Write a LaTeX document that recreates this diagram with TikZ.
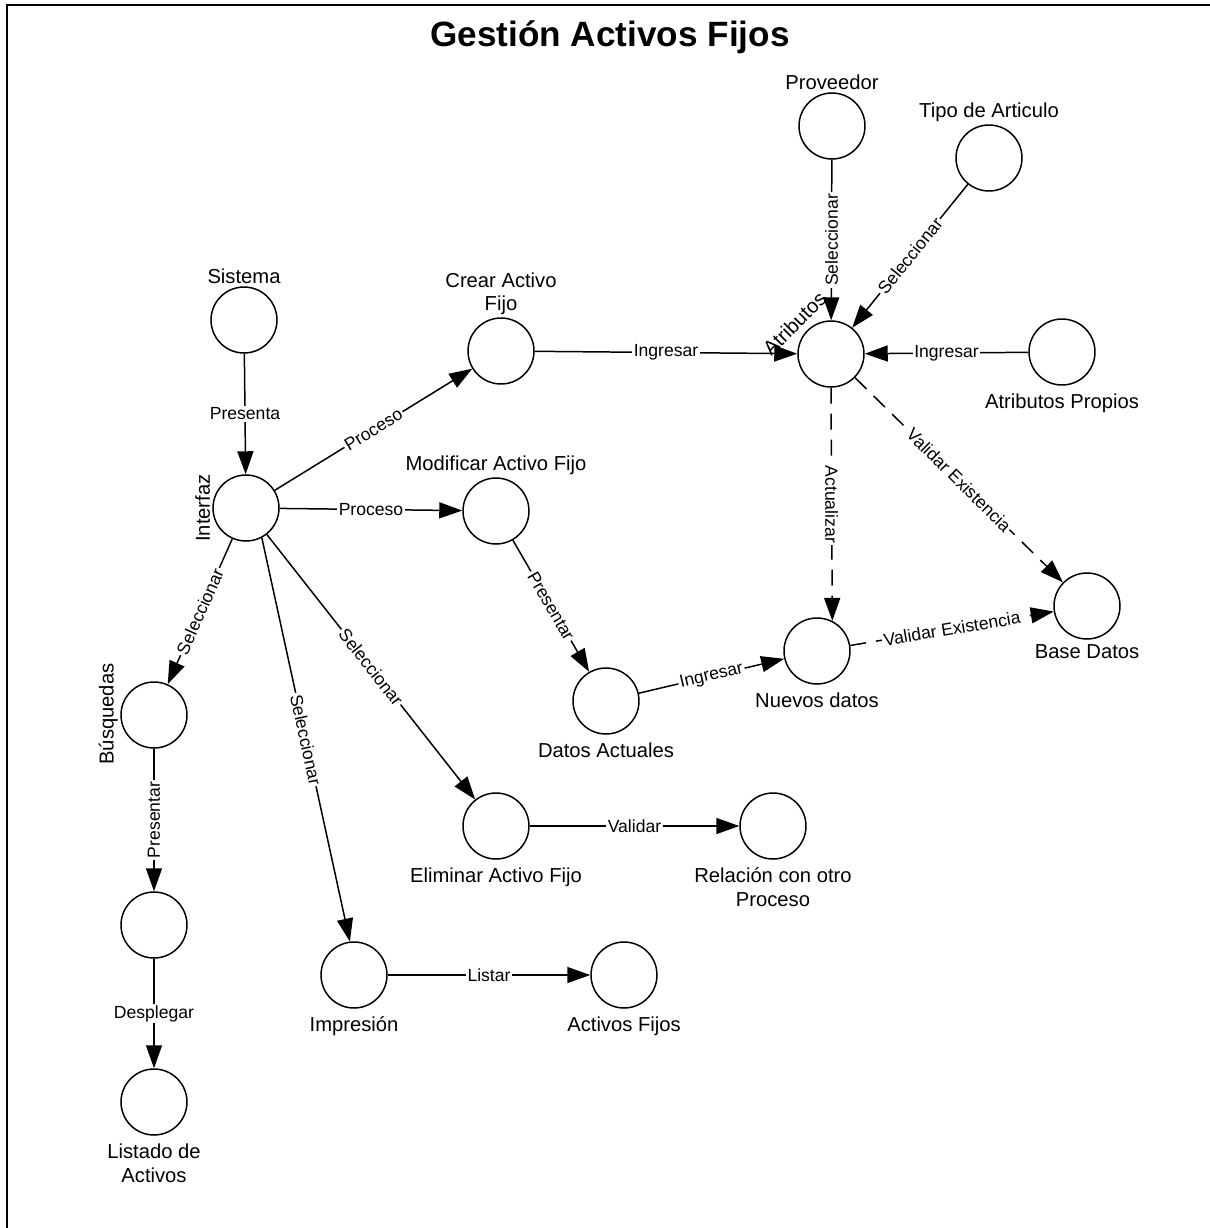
\documentclass[tikz,border=0pt]{standalone}
\usepackage{fontspec}
\setmainfont{Liberation Sans}
\usetikzlibrary{arrows.meta}

\newcommand\namefont{\fontsize{11.5}{13.5}\selectfont}
\newcommand\tagfont{\fontsize{10}{12}\selectfont}

\begin{document}
\begin{tikzpicture}[x=0.02cm, y=-0.02cm]
				\tikzset{proc/.style={
						circle,
						draw,
						line width=0.85pt,
						minimum size=1.32cm,
						inner sep=0pt},
					every label/.style={font=\namefont, inner sep=1pt, align=center},
					over/.style={label={above:#1}},
					under/.style={label={[label distance=0.12cm]below:#1}},
					side/.style={label={[rotate=90, anchor=south]west:#1}},
					flow/.style={-{Triangle[length=0.46cm, width=0.32cm]}, line width=0.85pt},
					check/.style={flow, dash pattern=on 0.32cm off 0.2cm},
					tag/.style={fill=white, inner sep=1pt, font=\tagfont}
				}
				
				\path[fill=white, use as bounding box] (0,0) rectangle (1210,1228);
				%% frame, only its top and left sides fall on the page
				\draw[line width=1.2pt] (7,1228) -- (7,5) -- (1210,5);
				\node[font=\fontsize{20}{24}\selectfont\bfseries] (Titulo) at (610,37) {Gestión Activos Fijos};
				
				%% MENU
				\node[proc, over=Sistema] (sistema) at (244,320) {};
				\node[proc, side=Interfaz] (interfaz) at (246,508) {};
				\node[proc, over={Crear Activo\\Fijo}] (crear) at (501,351) {};
				\node[proc, over={Modificar Activo Fijo}] (modificar) at (496,511) {};
				\node[proc, under={Eliminar Activo Fijo}] (eliminar) at (496,826) {};
				\node[proc, under=Impresión] (impresion) at (354,975) {};
				\node[proc, label={[rotate=90, anchor=south, label distance=0.1cm]170:Búsquedas}] (busquedas) at (154,715) {};
				\node[proc] (resultados) at (154,925) {};
				\node[proc, under={Listado de\\Activos}] (listado) at (154,1102) {};
				
				%% ATRIBUTOS
				\node[proc, label={[rotate=45, anchor=south, label distance=0.12cm]135:Atributos}] (atributos) at (831,354) {};
				\node[proc, over=Proveedor] (proveedor) at (832,126) {};
				\node[proc, over={Tipo de Articulo}] (tipoart) at (989,158) {};
				\node[proc, under={Atributos Propios}] (propios) at (1062,352) {};
				\node[proc, under={Datos Actuales}] (datosact) at (606,701) {};
				\node[proc, under={Nuevos datos}] (nuevos) at (817,651) {};
				\node[proc, label={[label distance=0.06cm]below:Base Datos}] (basedatos) at (1087,606) {};
				\node[proc, under={Relación con otro\\Proceso}] (relacion) at (773,826) {};
				\node[proc, under={Activos Fijos}] (activos) at (624,975) {};
				
				\draw[flow] (sistema) -- (interfaz) node[tag, midway] {Presenta};
				\draw[flow] (interfaz) -- (crear) node[tag, midway, sloped] {Proceso};
				\draw[flow] (interfaz) -- (modificar) node[tag, midway] {Proceso};
				\draw[flow] (interfaz) -- (busquedas) node[tag, midway, sloped] {Seleccionar};
				\draw[flow] (interfaz.-62) -- (impresion.97) node[tag, midway, sloped] {Seleccionar};
				\draw[flow] (interfaz) -- (eliminar) node[tag, midway, sloped] {Seleccionar};
				
				\draw[flow] (crear) -- (atributos) node[tag, midway] {Ingresar};
				\draw[flow] (proveedor) -- (atributos) node[tag, midway, rotate=90] {Seleccionar};
				\draw[flow] (tipoart) -- (atributos) node[tag, midway, sloped] {Seleccionar};
				\draw[flow] (propios) -- (atributos) node[tag, midway] {Ingresar};
				\draw[check] (atributos.south) -- (nuevos.63) node[tag, midway, rotate=-90] {Actualizar};
				\draw[check] (atributos) -- (basedatos) node[tag, midway, sloped] {Validar Existencia};
				\draw[check] (nuevos) -- (basedatos) node[tag, midway, sloped] {Validar Existencia};
				
				\draw[flow] (modificar) -- (datosact) node[tag, midway, sloped] {Presentar};
				\draw[flow] (datosact) -- (nuevos) node[tag, midway, sloped] {Ingresar};
				\draw[flow] (eliminar) -- (relacion) node[tag, midway] {Validar};
				\draw[flow] (impresion) -- (activos) node[tag, midway] {Listar};
				\draw[flow] (busquedas) -- (resultados) node[tag, midway, rotate=90] {Presentar};
				\draw[flow] (resultados) -- (listado) node[tag, midway] {Desplegar};
				
			\end{tikzpicture}
\end{document}
